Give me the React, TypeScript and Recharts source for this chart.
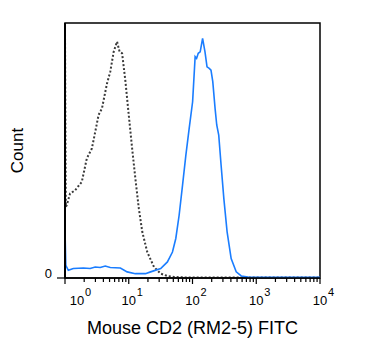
import React from "react";
import {
  LineChart,
  Line,
  XAxis,
  YAxis,
  ReferenceArea,
} from "recharts";

// isotype control (dotted) – fluorescence bins and counts
const isotypeX = [
  1, 1.03, 1.064, 1.199, 1.439, 1.835, 2.2, 2.64, 2.98, 3.36, 3.8, 4.56, 5.13,
  5.8, 6.55, 7.19, 7.87, 8.88, 10.0, 11.3, 12.7, 14.4, 16.3, 19.5, 24.9, 31.7,
  40.4, 51.4, 80, 200, 1000, 10000,
];
const isotypeCount = [
  97, 28, 28.5, 33.1, 34.4, 37.7, 46.9, 50.8, 57.3, 63.9, 66.5, 76.3, 80.9,
  88.7, 92.7, 88.7, 88.1, 77.0, 63.9, 50.8, 39.0, 27.2, 18.1, 10.2, 4.3, 1.7,
  0.8, 0.4, 0.2, 0.2, 0.2, 0.2,
];

// CD2 stained (solid blue)
const cd2X = [
  1, 1.03, 1.127, 1.352, 1.946, 2.48, 2.98, 3.57, 4.28, 5.13, 7.39, 9.44, 12.7,
  18.3, 22.0, 31.7, 40.4, 48.5, 54.7, 61.7, 69.8, 78.7, 88.7, 100.4, 110, 116,
  123, 132, 144, 157, 169, 183, 195, 208, 226, 240, 258, 281, 310, 349, 404,
  485, 582, 742, 1000, 10000,
];
const cd2Count = [
  18.7, 5, 3.0, 3.7, 3.9, 3.7, 4.3, 4.1, 4.7, 4.1, 3.9, 2.4, 1.7, 1.7, 2.4,
  3.7, 6.3, 10.2, 15.5, 24.6, 36.4, 48.2, 58.7, 69.1, 86.8, 86.1, 88.1, 88.7,
  94.0, 88.7, 82.8, 82.2, 81.5, 77.0, 66.5, 60.0, 56.0, 44.2, 31.2, 18.1, 7.6,
  2.4, 0.8, 0.4, 0.3, 0.3,
];

const majorTicks = [1, 10, 100, 1000, 10000];
const majorExponents = ["0", "1", "2", "3", "4"];
const yTicks = [0];
const yTickLabels = ["0"];

const FONT = "'Liberation Sans', Arial, sans-serif";

const isotypeData = isotypeX.map((x, i) => ({ x, count: isotypeCount[i] }));
const cd2Data = cd2X.map((x, i) => ({ x, count: cd2Count[i] }));

const allXTicks: number[] = [];
majorTicks.forEach((m, i) => {
  allXTicks.push(m);
  if (i < majorTicks.length - 1) {
    for (let k = 2; k <= 9; k++) allXTicks.push(m * k);
  }
});

const XTick = (props: any) => {
  const { x, y, payload } = props;
  const idx = majorTicks.indexOf(payload.value);
  const major = idx >= 0;
  // keep the first label clear of the y axis
  const lx = Math.max(x, 77);
  return (
    <g>
      <line
        x1={x}
        x2={x}
        y1={y}
        y2={y + (major ? 6 : 4)}
        stroke="#000"
        strokeWidth={1.2}
      />
      {major && (
        <g fontFamily={FONT} fill="#000">
          <text x={lx} y={y + 27} textAnchor="middle" fontSize={13}>
            10
          </text>
          <text x={lx + 8} y={y + 17.5} textAnchor="start" fontSize={11}>
            {majorExponents[idx]}
          </text>
        </g>
      )}
    </g>
  );
};

const YTick = (props: any) => {
  const { x, y, payload } = props;
  const idx = yTicks.indexOf(payload.value);
  return (
    <g>
      <line x1={x - 8} x2={x} y1={y} y2={y} stroke="#000" strokeWidth={1.2} />
      <text
        x={x - 13}
        y={y}
        textAnchor="end"
        fontSize={13}
        fontFamily={FONT}
        fill="#000"
      >
        {yTickLabels[idx]}
      </text>
    </g>
  );
};

const App = () => {
  return (
    <div style={{ position: "absolute", left: 0, top: 0, background: "#fff" }}>
      <LineChart
        width={375}
        height={359}
        margin={{ top: 23, right: 55, bottom: 21, left: 0 }}
      >
        <XAxis
          dataKey="x"
          type="number"
          scale="log"
          domain={[1, 10000]}
          allowDataOverflow
          ticks={allXTicks}
          interval={0}
          tick={<XTick />}
          tickLine={false}
          tickSize={0}
          tickMargin={0}
          height={60}
          axisLine={{ stroke: "#000", strokeWidth: 1.5 }}
          label={{
            value: "Mouse CD2 (RM2-5) FITC",
            position: "insideBottom",
            offset: 4,
            style: { fontFamily: FONT, fontSize: 18, fill: "#000" },
          }}
        />
        <YAxis
          type="number"
          domain={[0, 100]}
          ticks={yTicks}
          tick={<YTick />}
          tickLine={false}
          tickSize={0}
          tickMargin={0}
          width={65}
          axisLine={{ stroke: "#000", strokeWidth: 2 }}
          label={{
            value: "Count",
            angle: -90,
            position: "insideLeft",
            offset: 17,
            style: {
              textAnchor: "middle",
              fontFamily: FONT,
              fontSize: 17,
              fill: "#000",
            },
          }}
        />
        <ReferenceArea
          x1={1}
          x2={10000}
          y1={0}
          y2={100}
          fill="none"
          stroke="#000"
          strokeWidth={1.5}
        />
        <Line
          data={isotypeData}
          dataKey="count"
          type="linear"
          stroke="#3a3a3a"
          strokeWidth={2}
          strokeDasharray="2 2"
          dot={false}
          isAnimationActive={false}
        />
        <Line
          data={cd2Data}
          dataKey="count"
          type="linear"
          stroke="#1a7dff"
          strokeWidth={1.6}
          dot={false}
          isAnimationActive={false}
        />
      </LineChart>
    </div>
  );
};

export default App;
